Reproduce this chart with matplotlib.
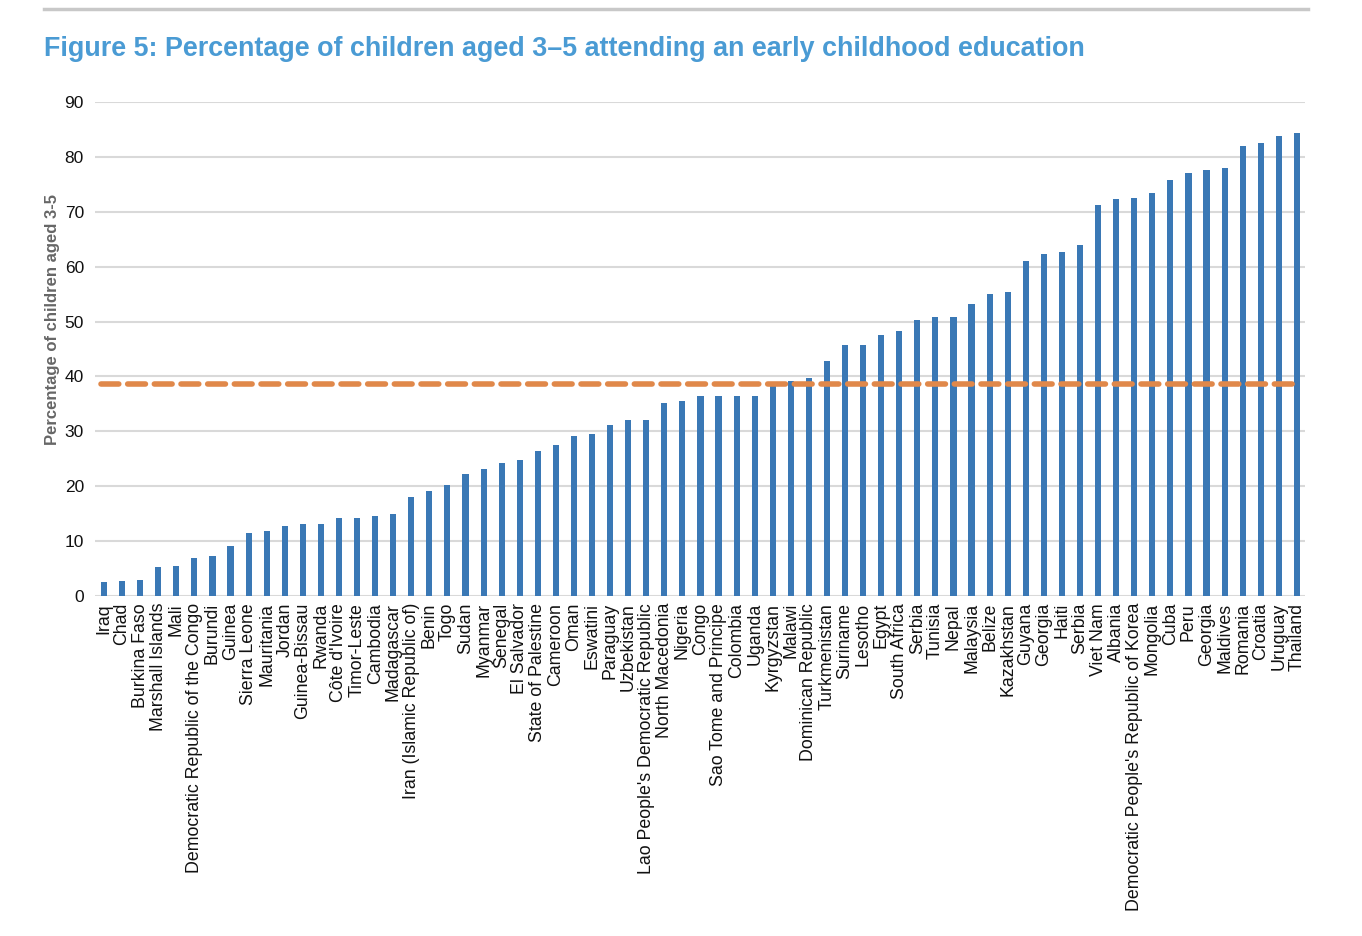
import numpy as np
import matplotlib
matplotlib.use("Agg")
import matplotlib.pyplot as plt

plt.rcParams['font.family'] = ['Liberation Sans', 'DejaVu Sans']

paises = [
    "Iraq", "Chad", "Burkina Faso", "Marshall Islands", "Mali",
    "Democratic Republic of the Congo", "Burundi", "Guinea", "Sierra Leone",
    "Mauritania", "Jordan", "Guinea-Bissau", "Rwanda", "Côte d'Ivoire",
    "Timor-Leste", "Cambodia", "Madagascar", "Iran (Islamic Republic of)",
    "Benin", "Togo", "Sudan", "Myanmar", "Senegal", "El Salvador",
    "State of Palestine", "Cameroon", "Oman", "Eswatini", "Paraguay",
    "Uzbekistan", "Lao People's Democratic Republic", "North Macedonia",
    "Nigeria", "Congo", "Sao Tome and Principe", "Colombia", "Uganda",
    "Kyrgyzstan", "Malawi", "Dominican Republic", "Turkmenistan", "Suriname",
    "Lesotho", "Egypt", "South Africa", "Serbia", "Tunisia", "Nepal",
    "Malaysia", "Belize", "Kazakhstan", "Guyana", "Georgia", "Haiti",
    "Serbia", "Viet Nam", "Albania", "Democratic People's Republic of Korea",
    "Mongolia", "Cuba", "Peru", "Georgia", "Maldives", "Romania", "Croatia",
    "Uruguay", "Thailand",
]

percentuais = [
    2.5, 2.8, 2.9, 5.2, 5.4, 7.0, 7.3, 9.1, 11.5, 11.9,
    12.8, 13.1, 13.1, 14.3, 14.3, 14.5, 15.0, 18.0, 19.2, 20.2,
    22.3, 23.2, 24.3, 24.8, 26.4, 27.5, 29.2, 29.5, 31.1, 32.0,
    32.1, 35.2, 35.6, 36.4, 36.4, 36.5, 36.5, 38.9, 39.1, 39.8,
    42.8, 45.7, 45.8, 47.5, 48.2, 50.3, 50.8, 50.9, 53.2, 55.0,
    55.4, 61.0, 62.3, 62.7, 63.9, 71.2, 72.4, 72.6, 73.5, 75.7,
    77.0, 77.7, 77.9, 82.0, 82.6, 83.8, 84.4,
]

media = 38.7

x = np.arange(len(paises))

fig = plt.figure(figsize=(13.62, 9.36), dpi=100)
ax = fig.add_axes([95 / 1362, 1 - 596 / 936, (1305 - 95) / 1362, (596 - 102) / 936])

ax.bar(x, percentuais, width=0.34, color='#3a78b5', zorder=2)
ax.axhline(media, xmin=0.005, xmax=0.995, color='#e0884a', linewidth=4,
           dashes=(3.2, 1.6), dash_capstyle='round', zorder=3)

ax.set_ylim(0, 90)
ax.set_xlim(-0.5, len(paises) - 0.55)
ax.set_yticks(np.arange(0, 91, 10))
ax.yaxis.grid(True, color='#d9d9d9', linewidth=1.5, zorder=0)
ax.set_axisbelow(True)
for s in ax.spines.values():
    s.set_visible(False)
ax.tick_params(axis='both', length=0, labelsize=12.5, colors='#111111')
ax.tick_params(axis='y', pad=8)
ax.tick_params(axis='x', pad=5)
ax.set_xticks(x)
ax.set_xticklabels(paises, rotation=90, fontsize=12.8)

ax.set_ylabel('Percentage of children aged 3-5', fontsize=12,
              fontweight='bold', color='#666666')
ax.yaxis.set_label_coords(-0.029, 0.56)

fig.add_artist(plt.Line2D([44 / 1362, 1308 / 1362], [1 - 9 / 936, 1 - 9 / 936],
                          color='#c8c8c8', linewidth=2.5))
fig.text(44 / 1362, 1 - 49 / 936,
         'Figure 5: Percentage of children aged 3\u20135 attending an early childhood education',
         fontsize=19.4, fontweight='bold', color='#4a9bd4', va='center', ha='left')

fig.savefig('out.png', dpi=100)
